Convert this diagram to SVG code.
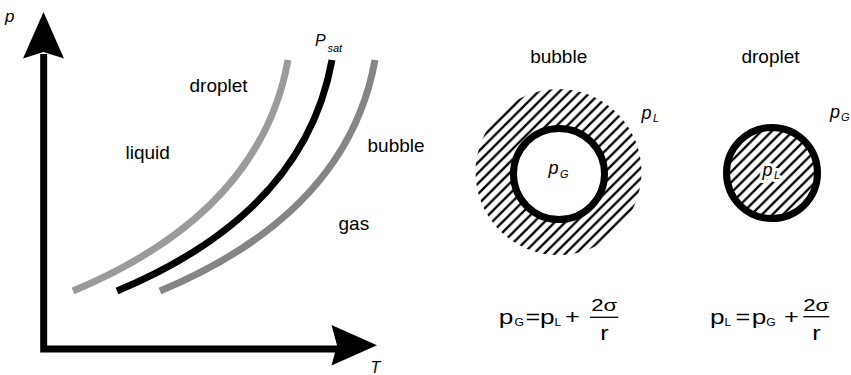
<svg xmlns="http://www.w3.org/2000/svg" width="851" height="375" viewBox="0 0 851 375">
  <defs>
    <pattern id="hatch" patternUnits="userSpaceOnUse" width="10.5" height="10.5">
      <path d="M-2,12.5 L12.5,-2 M-7.25,7.25 L7.25,-7.25 M3.25,17.75 L17.75,3.25" stroke="#000" stroke-width="2.3" fill="none"/>
    </pattern>
    <style>
      .lbl { font-family: "Liberation Sans", Arial, sans-serif; font-size: 19px; fill: #000; }
      .it { font-family: "Liberation Sans", Arial, sans-serif; font-style: italic; fill: #000; }
      .eq { font-family: "Liberation Sans", Arial, sans-serif; font-size: 21px; fill: #000; }
      .sub { font-family: "Liberation Sans", Arial, sans-serif; font-size: 11px; fill: #000; }
      .num { font-family: "Liberation Sans", Arial, sans-serif; font-size: 17px; fill: #000; }
      .curve { fill: none; stroke-width: 7; stroke-linecap: butt; }
      .ring { fill: none; stroke: #000; stroke-width: 7; }
      .halo { stroke: #fff; stroke-width: 6; paint-order: stroke; stroke-linejoin: round; }
    </style>
  </defs>

  <!-- axes -->
  <g id="axes">
    <path d="M43.7,54 L43.7,349 L337,349" fill="none" stroke="#000" stroke-width="7"/>
    <path d="M43.5,12 L64,58.5 L43.5,52 L23,58.5 Z" fill="#000"/>
    <path d="M377,345.3 L331.5,365.5 L337,345.3 L331.5,325 Z" fill="#000"/>
    <text class="it" x="5" y="22" font-size="17">p</text>
    <text class="it" x="370.5" y="372.5" font-size="16">T</text>
  </g>

  <!-- curves -->
  <g id="connectors">
    <path class="curve" stroke="#9b9b9b" d="M73,291 C200,238 270,160 288,60"/>
    <path class="curve" stroke="#000" d="M117,291 C244,238 314,160 332,60"/>
    <path class="curve" stroke="#858585" d="M160,291 C287,238 357,160 375,60"/>
  </g>

  <g id="region-labels">
    <text class="it" x="315" y="46" font-size="16">P</text>
    <text class="it" x="327.5" y="52" font-size="11">sat</text>
    <text class="lbl" x="189.5" y="92.3">droplet</text>
    <text class="lbl" x="125.5" y="159.3">liquid</text>
    <text class="lbl" x="367.5" y="152.3">bubble</text>
    <text class="lbl" x="338.5" y="230">gas</text>
  </g>

  <!-- bubble -->
  <g id="bubble">
    <text class="lbl" x="558.7" y="62.7" text-anchor="middle">bubble</text>
    <circle cx="558.5" cy="172" r="83" fill="url(#hatch)"/>
    <circle cx="559" cy="174" r="45.5" fill="#fff"/>
    <circle class="ring" cx="559" cy="174" r="45.5"/>
    <text class="it" x="548.5" y="173.5" font-size="18">p</text>
    <text class="it" x="560" y="177.5" font-size="11">G</text>
    <text class="it" x="641.5" y="118.5" font-size="18">p</text>
    <text class="it" x="653" y="122" font-size="11">L</text>
  </g>

  <!-- droplet -->
  <g id="droplet">
    <text class="lbl" x="770.5" y="62.5" text-anchor="middle">droplet</text>
    <circle cx="772" cy="173" r="45.5" fill="url(#hatch)"/>
    <circle class="ring" cx="772" cy="173" r="45.5"/>
    <text class="it halo" x="762.5" y="176" font-size="18">p</text>
    <text class="it halo" x="774" y="179" font-size="11">L</text>
    <text class="it" x="830" y="117.5" font-size="18">p</text>
    <text class="it" x="841" y="121" font-size="11">G</text>
  </g>

  <!-- bubble formula -->
  <g id="formula-bubble">
    <text class="eq" transform="translate(498.8,323.5) scale(1.25,1)">p</text>
    <text class="sub" transform="translate(514.5,325.5) scale(1.1,1)">G</text>
    <text class="eq" transform="translate(525.6,323.5) scale(1.2,1)">=</text>
    <text class="eq" transform="translate(540,323.5) scale(1.25,1)">p</text>
    <text class="sub" transform="translate(554.5,325.5) scale(1.1,1)">L</text>
    <text class="eq" transform="translate(565,323.5) scale(1.2,1)">+</text>
    <line x1="590" y1="317.3" x2="618.3" y2="317.3" stroke="#000" stroke-width="1.3"/>
    <text class="num" text-anchor="middle" transform="translate(604.2,311) scale(1.3,1)">2σ</text>
    <text class="eq" text-anchor="middle" transform="translate(604.5,340) scale(1.2,1)">r</text>
  </g>

  <!-- droplet formula -->
  <g id="formula-droplet">
    <text class="eq" transform="translate(710,323.5) scale(1.25,1)">p</text>
    <text class="sub" transform="translate(724.5,325.5) scale(1.1,1)">L</text>
    <text class="eq" transform="translate(735.6,323.5) scale(1.2,1)">=</text>
    <text class="eq" transform="translate(751.8,323.5) scale(1.25,1)">p</text>
    <text class="sub" transform="translate(766.2,325.5) scale(1.1,1)">G</text>
    <text class="eq" transform="translate(784,323.5) scale(1.2,1)">+</text>
    <line x1="803.3" y1="316.7" x2="829.3" y2="316.7" stroke="#000" stroke-width="1.3"/>
    <text class="num" text-anchor="middle" transform="translate(816.3,310.5) scale(1.3,1)">2σ</text>
    <text class="eq" text-anchor="middle" transform="translate(816.5,340) scale(1.2,1)">r</text>
  </g>
</svg>
